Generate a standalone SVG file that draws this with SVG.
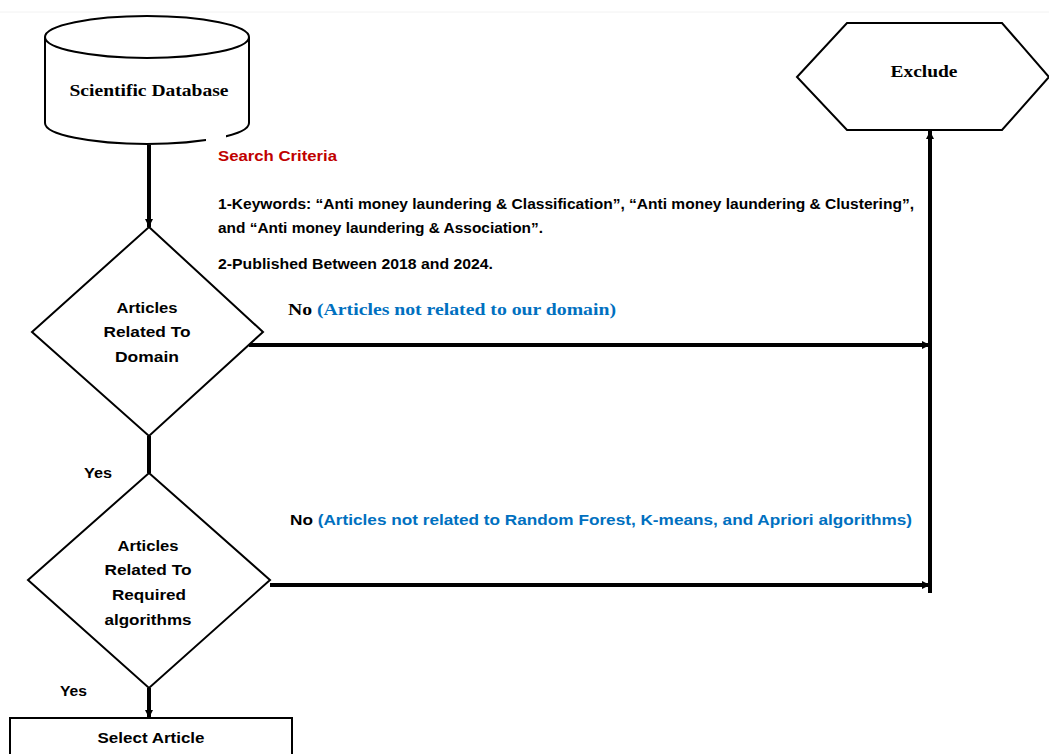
<svg xmlns="http://www.w3.org/2000/svg" width="1049" height="754" viewBox="0 0 1049 754">
<style>
.shape{fill:#fff;stroke:#000;stroke-width:2}
.conn{fill:none;stroke:#000;stroke-width:4}
.sans{font-family:"Liberation Sans",Arial,sans-serif;font-weight:bold;font-size:15px;fill:#000}
.serif{font-family:"Liberation Serif","Times New Roman",serif;font-weight:bold;font-size:17px;fill:#000}
.blue{fill:#0070c0}
.red{fill:#c00000}
</style>
<defs>
<marker id="ah" viewBox="0 0 6 6" refX="6" refY="3" markerWidth="2" markerHeight="2" orient="auto" markerUnits="strokeWidth">
<path d="M0,0 L6,3 L0,6 z" fill="#000"/>
</marker>
</defs>
<rect x="0" y="0" width="1049" height="754" fill="#fff"/>
<line x1="0" y1="12" x2="1049" y2="12" stroke="#f2f2f2" stroke-width="1"/>
<g id="connectors">
<line class="conn" x1="149" y1="145" x2="149" y2="227" marker-end="url(#ah)"/>
<line class="conn" x1="149" y1="436" x2="149" y2="473"/>
<line class="conn" x1="149" y1="688" x2="149" y2="718" marker-end="url(#ah)"/>
<line class="conn" x1="249" y1="345" x2="930" y2="345" marker-end="url(#ah)"/>
<line class="conn" x1="270" y1="585" x2="930" y2="585" marker-end="url(#ah)"/>
<line class="conn" x1="930" y1="593" x2="930" y2="131" marker-end="url(#ah)"/>
</g>
<g id="database">
<path class="shape" d="M45,37 L45,123 A102,21 0 0 0 249,123 L249,37"/>
<ellipse class="shape" cx="147" cy="37" rx="102" ry="21"/>
<text class="serif" x="149" y="96" text-anchor="middle" textLength="159" lengthAdjust="spacingAndGlyphs">Scientific Database</text>
</g>
<g id="criteria">
<rect x="206" y="134" width="20" height="16" fill="#fff"/>
<text class="sans red" x="218" y="161" textLength="119" lengthAdjust="spacingAndGlyphs">Search Criteria</text>
<text class="sans" x="218" y="209" textLength="696" lengthAdjust="spacingAndGlyphs">1-Keywords: “Anti money laundering &amp; Classification”, “Anti money laundering &amp; Clustering”,</text>
<text class="sans" x="218" y="233" textLength="325" lengthAdjust="spacingAndGlyphs">and “Anti money laundering &amp; Association”.</text>
<text class="sans" x="218" y="269" textLength="275" lengthAdjust="spacingAndGlyphs">2-Published Between 2018 and 2024.</text>
</g>
<g id="exclude">
<polygon class="shape" points="797,77 847,23 1002,23 1049,77 1002,130 847,130"/>
<text class="serif" x="924" y="77" text-anchor="middle" textLength="67" lengthAdjust="spacingAndGlyphs">Exclude</text>
</g>
<g id="decision1">
<polygon class="shape" points="149,227 263,332 149,436 32,332"/>
<text class="sans" x="147" y="313" text-anchor="middle" textLength="61" lengthAdjust="spacingAndGlyphs">Articles</text>
<text class="sans" x="147" y="337" text-anchor="middle" textLength="87" lengthAdjust="spacingAndGlyphs">Related To</text>
<text class="sans" x="147" y="362" text-anchor="middle" textLength="64" lengthAdjust="spacingAndGlyphs">Domain</text>
</g>
<g id="label-no1">
<text class="serif" x="288" y="315" textLength="328" lengthAdjust="spacingAndGlyphs">No <tspan class="blue">(Articles not related to our domain)</tspan></text>
</g>
<g id="label-yes1">
<text class="sans" x="84" y="478" textLength="28" lengthAdjust="spacingAndGlyphs">Yes</text>
</g>
<g id="decision2">
<polygon class="shape" points="149,473 270,580 149,688 28,580"/>
<text class="sans" x="148" y="551" text-anchor="middle" textLength="61" lengthAdjust="spacingAndGlyphs">Articles</text>
<text class="sans" x="148" y="575" text-anchor="middle" textLength="87" lengthAdjust="spacingAndGlyphs">Related To</text>
<text class="sans" x="149" y="600" text-anchor="middle" textLength="74" lengthAdjust="spacingAndGlyphs">Required</text>
<text class="sans" x="148" y="625" text-anchor="middle" textLength="87" lengthAdjust="spacingAndGlyphs">algorithms</text>
</g>
<g id="label-no2">
<text class="sans" x="290" y="525" textLength="622" lengthAdjust="spacingAndGlyphs">No <tspan class="blue">(Articles not related to Random Forest, K-means, and Apriori algorithms)</tspan></text>
</g>
<g id="label-yes2">
<text class="sans" x="60" y="696" textLength="27" lengthAdjust="spacingAndGlyphs">Yes</text>
</g>
<g id="select">
<rect class="shape" x="10" y="718" width="282" height="50"/>
<text class="sans" x="151" y="743" text-anchor="middle" textLength="107" lengthAdjust="spacingAndGlyphs">Select Article</text>
</g>
</svg>
